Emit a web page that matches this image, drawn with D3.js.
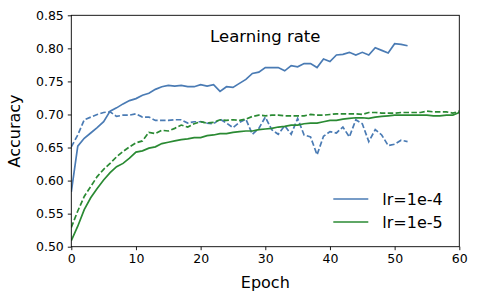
<!DOCTYPE html>
<head>
  <meta charset="utf-8">
  <title>index.html</title>
</head>
<style>
body { margin: 0; background: #fff; }
svg text { font-family: "DejaVu Sans", sans-serif; fill: #000; }
.axis path, .axis line { stroke: #000; stroke-width: 0.9; }
.axis text { font-size: 12.5px; }
</style>
<svg width="477" height="300"></svg>
<script src="https://d3js.org/d3.v7.min.js"></script>
<script>
var svg = d3.select("svg"),
    margin = { top: 15.3, bottom: 53.3, right: 17.7, left: 71.3 },
    width = +svg.attr("width") - margin.left - margin.right,
    height = +svg.attr("height") - margin.top - margin.bottom;

// lr=1e-4, epochs 0..52
var blueTrain = [0.583, 0.652, 0.664, 0.672, 0.680, 0.689, 0.705, 0.710, 0.716, 0.721,
  0.724, 0.729, 0.732, 0.738, 0.742, 0.744, 0.743, 0.744, 0.742, 0.742,
  0.745, 0.743, 0.745, 0.735, 0.742, 0.741, 0.747, 0.753, 0.762, 0.764,
  0.771, 0.771, 0.771, 0.766, 0.774, 0.772, 0.777, 0.777, 0.771, 0.784,
  0.780, 0.790, 0.791, 0.794, 0.790, 0.794, 0.790, 0.801, 0.797, 0.793,
  0.807, 0.806, 0.804];
var blueVal = [0.651, 0.669, 0.692, 0.696, 0.700, 0.703, 0.704, 0.697, 0.699, 0.699,
  0.701, 0.696, 0.696, 0.691, 0.691, 0.691, 0.692, 0.692, 0.687, 0.689,
  0.689, 0.687, 0.686, 0.693, 0.687, 0.680, 0.688, 0.693, 0.670, 0.679,
  0.696, 0.677, 0.670, 0.683, 0.670, 0.694, 0.669, 0.666, 0.639, 0.667,
  0.674, 0.672, 0.681, 0.666, 0.692, 0.686, 0.659, 0.677, 0.669, 0.653,
  0.655, 0.661, 0.659];
// lr=1e-5, epochs 0..60
var greenTrain = [0.509, 0.531, 0.556, 0.574, 0.588, 0.601, 0.612, 0.621, 0.626, 0.634,
  0.643, 0.645, 0.649, 0.651, 0.656, 0.658, 0.660, 0.662, 0.663, 0.665,
  0.665, 0.668, 0.669, 0.671, 0.671, 0.673, 0.674, 0.675, 0.675, 0.677,
  0.678, 0.679, 0.681, 0.682, 0.684, 0.684, 0.686, 0.687, 0.687, 0.689,
  0.691, 0.691, 0.693, 0.694, 0.695, 0.695, 0.694, 0.696, 0.697, 0.698,
  0.699, 0.699, 0.699, 0.699, 0.699, 0.699, 0.698, 0.698, 0.699, 0.699,
  0.703];
var greenVal = [0.529, 0.554, 0.576, 0.591, 0.606, 0.617, 0.626, 0.636, 0.644, 0.651,
  0.657, 0.660, 0.673, 0.671, 0.676, 0.675, 0.679, 0.684, 0.681, 0.686,
  0.689, 0.687, 0.688, 0.692, 0.691, 0.692, 0.691, 0.693, 0.697, 0.699,
  0.698, 0.699, 0.699, 0.698, 0.698, 0.698, 0.698, 0.700, 0.699, 0.699,
  0.700, 0.701, 0.701, 0.701, 0.701, 0.700, 0.703, 0.703, 0.702, 0.702,
  0.702, 0.703, 0.703, 0.703, 0.703, 0.705, 0.704, 0.704, 0.704, 0.702,
  0.705];

var xTicks = [0, 10, 20, 30, 40, 50, 60];
var yTicks = [0.50, 0.55, 0.60, 0.65, 0.70, 0.75, 0.80, 0.85];
var legendLabels = ["lr=1e-4", "lr=1e-5"];
var colors = ["#4a7bb4", "#2a8a33"];

var series = [
  { values: blueTrain, color: colors[0], dashed: false },
  { values: blueVal, color: colors[0], dashed: true },
  { values: greenTrain, color: colors[1], dashed: false },
  { values: greenVal, color: colors[1], dashed: true }
];

var x = d3.scaleLinear().domain([0, 60]).range([0, width]);
var y = d3.scaleLinear().domain([0.50, 0.85]).range([height, 0]);

var g = svg.append("g").attr("transform", "translate(" + margin.left + "," + margin.top + ")");

g.append("defs").append("clipPath").attr("id", "clip")
  .append("rect").attr("width", width).attr("height", height);

var line = d3.line()
  .x(function(d, i) { return x(i); })
  .y(function(d) { return y(d); });

g.append("g").attr("clip-path", "url(#clip)")
  .selectAll("path")
  .data(series)
  .enter().append("path")
    .attr("fill", "none")
    .attr("stroke", function(d) { return d.color; })
    .attr("stroke-width", 1.7)
    .attr("stroke-dasharray", function(d) { return d.dashed ? "5.5,2.4" : null; })
    .attr("d", function(d) { return line(d.values); });

// frame
g.append("rect")
  .attr("width", width).attr("height", height)
  .attr("fill", "none").attr("stroke", "#000").attr("stroke-width", 0.9);

var xAxis = g.append("g").attr("class", "axis")
  .attr("transform", "translate(0," + height + ")")
  .call(d3.axisBottom(x).tickValues(xTicks).tickSize(3.5).tickPadding(3.5).tickFormat(d3.format("d")));
var yAxis = g.append("g").attr("class", "axis")
  .call(d3.axisLeft(y).tickValues(yTicks).tickSize(3.5).tickPadding(4).tickFormat(d3.format(".2f")));
xAxis.select(".domain").remove();
yAxis.select(".domain").remove();

g.append("text")
  .attr("x", width / 2).attr("y", height + 41)
  .attr("text-anchor", "middle").style("font-size", "16px")
  .text("Epoch");

g.append("text")
  .attr("transform", "translate(" + (-51) + "," + (height / 2) + ") rotate(-90)")
  .attr("text-anchor", "middle").style("font-size", "16px")
  .text("Accuracy");

g.append("text")
  .attr("x", width / 2).attr("y", 26.5)
  .attr("text-anchor", "middle").style("font-size", "16.5px")
  .text("Learning rate");

var legend = g.selectAll(".legend")
  .data(legendLabels)
  .enter().append("g")
    .attr("class", "legend")
    .attr("transform", function(d, i) { return "translate(" + (width - 126) + "," + (183.7 + i * 23) + ")"; });

legend.append("line")
  .attr("x1", 0).attr("x2", 35)
  .attr("stroke", function(d, i) { return colors[i]; })
  .attr("stroke-width", 1.7);

legend.append("text")
  .attr("x", 49).attr("y", 6)
  .style("font-size", "16px")
  .text(function(d) { return d; });
</script>
